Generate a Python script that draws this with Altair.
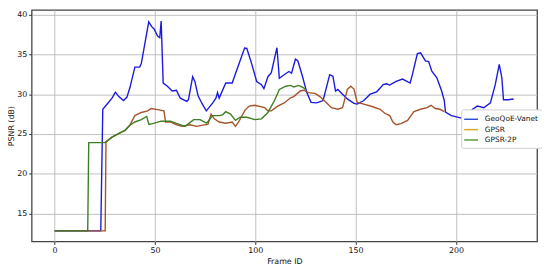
import altair as alt
import pandas as pd

series_names = ["GeoQoE-Vanet", "GPSR", "GPSR-2P"]
line_colors = ["#1a1ae0", "#a4532a", "#3f7d22"]
legend_colors = ["#2a4fd8", "#dba628", "#5a9a3a"]

geo_x = [0, 23, 24, 26, 28.6, 30.3, 32, 34.3, 36, 37.5, 40, 42.4, 43.2, 44.8, 46.9, 48.4, 49.6,
         51.3, 52.4, 53.1, 54.1, 56.2, 58.6, 60.7, 62.6, 65.9, 66.7, 68.8, 69.9, 71.5, 73.5,
         75.6, 78.8, 80.4, 81.2, 82, 85.3, 88.5, 91, 94.7, 95.8, 98, 100.7, 103.1, 104.3,
         106.3, 108, 110.8, 112, 114.4, 116.8, 118.1, 120, 121.2, 123.3, 125.7, 127.8, 130.6,
         133.8, 137.1, 138.7, 140, 141.1, 143.5, 145.9, 149.2, 150.8, 154.1, 157.3, 160.5,
         163.8, 165.4, 167, 170.2, 173.4, 177.2, 178.3, 180.8, 182.4, 184.8, 186.4, 188,
         190.5, 192.9, 194.2, 194.8, 197.7, 201.8, 204.2, 206, 208.3, 210.7, 213.9, 217.2,
         219.6, 221.6, 222.9, 223.7, 226.1, 228.8]
geo_y = [12.8, 12.8, 28.1, 28.7, 29.5, 30.25, 29.7, 29.2, 29.6, 30.8, 33.4, 33.4, 33.85, 36.1,
         39.1, 38.5, 38.2, 37.3, 37.1, 39.2, 31.4, 31.0, 30.4, 30.5, 29.5, 29.1, 29.3, 32.2,
         31.6, 29.8, 28.8, 27.9, 28.9, 29.5, 30.2, 29.5, 31.4, 31.4, 33.2, 35.8, 35.75, 34.0,
         31.6, 31.2, 30.7, 32.2, 32.7, 35.85, 32.0, 32.45, 32.85, 32.65, 34.4, 34.2, 32.45,
         30.2, 28.97, 28.9, 29.2, 32.45, 32.25, 30.4, 30.6, 30.0, 29.4, 28.85, 28.75, 29.2,
         30.0, 30.3, 31.2, 31.3, 31.15, 31.6, 31.9, 31.4, 32.45, 35.1, 35.2, 34.2, 34.1, 32.9,
         32.05, 30.4, 29.2, 27.75, 27.3, 27.05, 26.9, 27.3, 28.1, 28.5, 28.3, 28.9, 31.2,
         33.75, 32.05, 29.3, 29.3, 29.4]

gpsr_x = [0, 25.2, 25.6, 28.6, 31.9, 35.1, 37.5, 40, 43.2, 46.4, 48.1, 51.3, 54.5, 55.3, 57.8,
          60.2, 63.4, 67.5, 70.7, 73.9, 76.4, 78, 79.6, 82, 85.3, 88.5, 90.1, 91.7, 94.9, 97,
          99.8, 104.7, 106.3, 108, 111.2, 114.4, 117.6, 119.2, 122.4, 124.1, 126.5, 129.8,
          132.2, 135.4, 137.9, 141.1, 143.5, 145.9, 147.6, 149.2, 150.8, 154.1, 158.2, 162.2,
          164.6, 167, 168.6, 170.2, 172.6, 175.9, 179.1, 182.4, 185.6, 187.6, 189.7, 192.1,
          194.2]
gpsr_y = [12.8, 12.8, 24.0, 24.6, 25.05, 25.45, 26.1, 27.3, 27.7, 27.9, 28.2, 28.05, 27.9,
          26.5, 26.5, 26.2, 25.95, 26.15, 25.95, 26.1, 26.2, 27.5, 26.9, 26.5, 26.35, 26.5,
          25.95, 26.5, 28.0, 28.5, 28.6, 28.3, 27.9, 27.9, 28.5, 28.9, 29.55, 29.7, 30.4, 30.5,
          30.2, 30.1, 29.7, 28.95, 28.3, 28.1, 28.3, 30.6, 31.0, 30.65, 28.95, 28.75, 28.45,
          28.1, 27.6, 27.3, 26.5, 26.15, 26.3, 26.7, 27.8, 28.1, 28.3, 28.6, 28.2, 28.1, 27.8]

gpsr2p_x = [0, 16.5, 17, 25, 25.6, 28.6, 31.9, 35.1, 37.5, 40, 43.2, 45.9, 47, 48.9, 53, 57.8,
            61, 65, 69.3, 72.5, 75.7, 78.8, 82, 83.7, 85.3, 87.7, 90.1, 92.5, 95.8, 99.8, 103.1,
            106.3, 109.6, 112, 115.2, 117.6, 119.2, 121.7, 124.1, 125]
gpsr2p_y = [12.8, 12.8, 23.9, 23.9, 24.0, 24.6, 25.05, 25.45, 26.1, 26.5, 26.8, 27.2, 26.2,
            26.3, 26.6, 26.6, 26.3, 25.95, 26.8, 26.8, 26.35, 27.3, 27.3, 27.4, 27.8, 27.5,
            26.7, 27.1, 27.1, 26.8, 26.9, 27.7, 29.2, 30.6, 31.0, 31.1, 30.9, 31.1, 30.8, 30.6]

x_ticks = [0, 50, 100, 150, 200]
y_ticks = [15, 20, 25, 30, 35, 40]

def mk(xs, ys, name):
    return pd.DataFrame({"frame": xs, "psnr": ys, "series": name})

dfs = [mk(geo_x, geo_y, series_names[0]),
       mk(gpsr_x, gpsr_y, series_names[1]),
       mk(gpsr2p_x, gpsr2p_y, series_names[2])]
all_df = pd.concat(dfs, ignore_index=True)

font = "DejaVu Sans"
xscale = alt.Scale(domain=[-11.45, 240.45], nice=False, zero=False)
yscale = alt.Scale(domain=[11.47, 40.6], nice=False, zero=False)
xaxis = alt.Axis(values=x_ticks, title="Frame ID", format="d", grid=True)
yaxis = alt.Axis(values=y_ticks, title="PSNR (dB)", format="d", grid=True)

layers = []
for df, c in zip(dfs, line_colors):
    layers.append(
        alt.Chart(df).mark_line(color=c, strokeWidth=1.4).encode(
            x=alt.X("frame:Q", scale=xscale, axis=xaxis),
            y=alt.Y("psnr:Q", scale=yscale, axis=yaxis),
        )
    )

legend_layer = alt.Chart(all_df).mark_line(opacity=0).encode(
    x=alt.X("frame:Q", scale=xscale, axis=xaxis),
    y=alt.Y("psnr:Q", scale=yscale, axis=yaxis),
    color=alt.Color(
        "series:N",
        scale=alt.Scale(domain=series_names, range=legend_colors),
        legend=alt.Legend(
            title=None, orient="none", legendX=436, legendY=101,
            symbolType="M-1.4,0H1.4", symbolSize=100, symbolStrokeWidth=1.5,
            symbolOpacity=1, symbolFillColor="transparent",
            labelFontSize=7.5, labelFont=font, labelColor="#111", labelOffset=8,
            rowPadding=0.5, padding=4, fillColor="white", strokeColor="#cfcfcf",
            cornerRadius=2,
        ),
    ),
)

chart = alt.layer(*layers, legend_layer).properties(
    width=513, height=235,
    autosize=alt.AutoSizeParams(type="none"),
    padding={"left": 24, "top": 0, "right": 5, "bottom": 26},
).configure_view(
    stroke="#444", strokeWidth=1.3
).configure_axis(
    domain=False, gridColor="#b8b8b8", gridWidth=0.9, tickColor="#333", tickSize=3,
    labelFont=font, labelFontSize=8, labelColor="#111", titleFont=font, titleFontSize=8,
    titleFontWeight="normal", titleColor="#111", labelPadding=2
).configure_axisX(titlePadding=3).configure_axisY(titlePadding=1)

chart.save("out.html", embed_options={"renderer": "svg", "actions": False})
